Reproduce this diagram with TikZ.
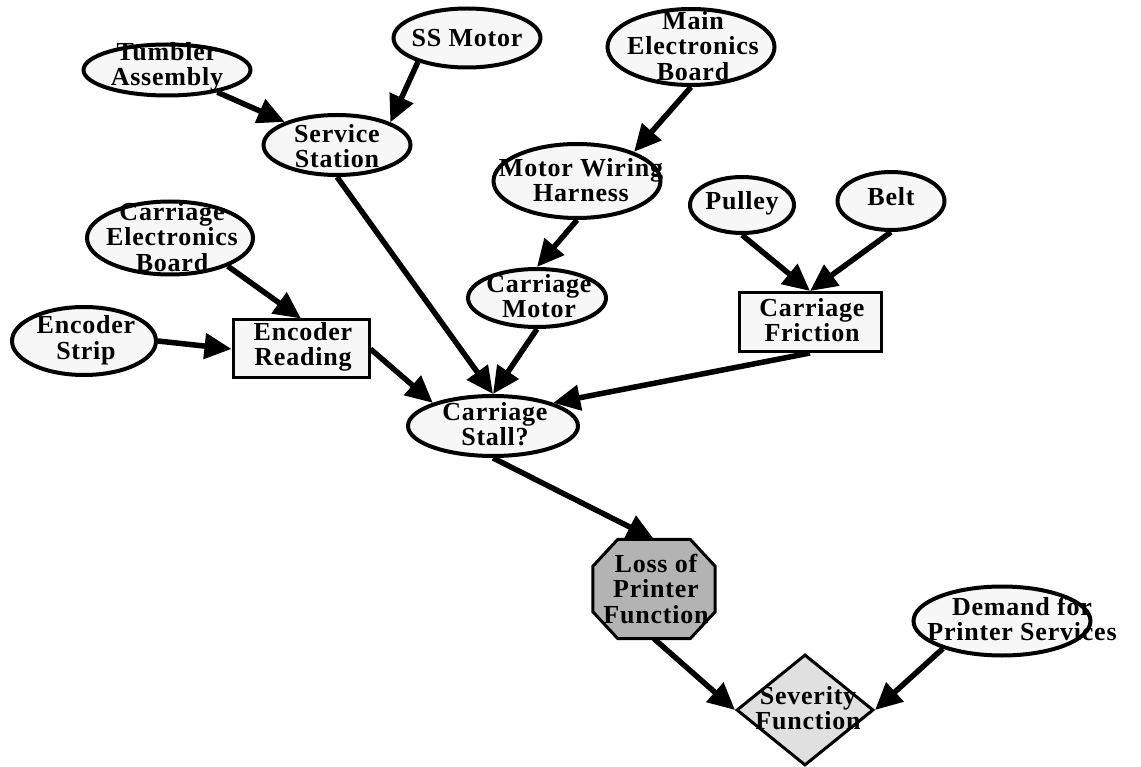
\documentclass[tikz,border=0pt]{standalone}
\usepackage{fontspec}
\newfontfamily\lblfont{Liberation Serif}[LetterSpace=3]
\usetikzlibrary{shapes.geometric,arrows.meta,backgrounds}
\definecolor{nodefill}{HTML}{F7F7F7}
\definecolor{lossfill}{HTML}{B3B3B3}
\definecolor{sevfill}{HTML}{E0E0E0}

\begin{document}
\begin{tikzpicture}[x=1pt,y=-1pt,
  ell/.style={ellipse, draw, line width=4pt, fill=nodefill, inner sep=0pt},
  box/.style={rectangle, draw, line width=3pt, fill=nodefill, inner sep=0pt},
  txt/.style={align=center, inner sep=0pt, font=\lblfont\bfseries\fontsize{26}{25.5}\selectfont},
  edge/.style={line width=5.5pt, -{Triangle[length=27pt,width=25pt]}},
]
\useasboundingbox (0,0) rectangle (1141,767);

% chance nodes (ellipses)
\node[ell, minimum width=167pt, minimum height=51pt] (ta) at (167,70) {};
\node[txt] (ta-t) at (167,67) {Tumbler\\Assembly};
\node[ell, minimum width=147pt, minimum height=59pt] (sm) at (467,38) {};
\node[txt] (sm-t) at (467,38) {SS Motor};
\node[ell, minimum width=147pt, minimum height=60pt] (ss) at (337,145) {};
\node[txt] (ss-t) at (337,146) {Service\\Station};
\node[ell, minimum width=167pt, minimum height=76pt] (me) at (691,47) {};
\node[txt] (me-t) at (693,46) {Main\\Electronics\\Board};
\node[ell, minimum width=167pt, minimum height=74pt] (mw) at (577,181) {};
\node[txt] (mw-t) at (581,180) {Motor Wiring\\Harness};
\node[ell, minimum width=104pt, minimum height=56pt] (pu) at (742,205) {};
\node[txt] (pu-t) at (742,203) {Pulley};
\node[ell, minimum width=107pt, minimum height=58pt] (be) at (891,201) {};
\node[txt] (be-t) at (891,197) {Belt};
\node[ell, minimum width=166pt, minimum height=73pt] (ceb) at (170,238) {};
\node[txt] (ceb-t) at (172,237) {Carriage\\Electronics\\Board};
\node[ell, minimum width=144pt, minimum height=68pt] (es) at (84,341) {};
\node[txt] (es-t) at (86,340) {Encoder\\Strip};
\node[ell, minimum width=138pt, minimum height=58pt] (cm) at (537,298) {};
\node[txt] (cm-t) at (539,296) {Carriage\\Motor};
\node[ell, minimum width=170pt, minimum height=60pt] (cs) at (493,426) {};
\node[txt] (cs-t) at (495,424) {Carriage\\Stall?};
\node[ell, minimum width=177pt, minimum height=69pt] (de) at (1002,621) {};
\node[txt] (de-t) at (1022,619) {Demand for\\Printer Services};

% deterministic nodes (boxes)
\node[box, minimum width=136pt, minimum height=58pt] (er) at (301,349) {};
\node[txt] (er-t) at (303,347) {Encoder\\Reading};
\node[box, minimum width=142pt, minimum height=59pt] (cf) at (810,322) {};
\node[txt] (cf-t) at (812,320) {Carriage\\Friction};

% value node (octagon)
\node[minimum width=122pt, minimum height=99pt, inner sep=0pt] (lpf) at (654,589) {};
\draw[line width=3pt, fill=lossfill]
  ([xshift=25pt]lpf.north west) -- ([xshift=-25pt]lpf.north east)
  -- ([yshift=-27pt]lpf.north east) -- ([yshift=27pt]lpf.south east)
  -- ([xshift=-25pt]lpf.south east) -- ([xshift=25pt]lpf.south west)
  -- ([yshift=27pt]lpf.south west) -- ([yshift=-27pt]lpf.north west) -- cycle;
\node[txt] (lpf-t) at (656,589) {Loss of\\Printer\\Function};

% utility node (diamond)
\node[diamond, draw, line width=3pt, fill=sevfill, minimum width=137pt,
      minimum height=111pt, inner sep=0pt] (sev) at (805,710) {};
\node[txt] (sev-t) at (808,708) {Severity\\Function};

% influence arcs
\begin{scope}[on background layer]
\draw[edge] (ta) -- (ss);
\draw[edge] (sm.206) -- (ss.23);
\draw[edge] (me.south) -- (mw.27);
\draw[edge] (mw.south) -- (cm.north);
\draw[edge] (ceb.334) -- (er.north);
\draw[edge] (es.east) -- (er.west);
\draw[edge] (er.east) -- (cs.159);
\draw[edge] (ss.south) -- (cs.north);
\draw[edge] (cm.south) -- (cs.north);
\draw[edge] (cf.south) -- (cs.21);
\draw[edge] (pu.south) -- (cf.north);
\draw[edge] (be.south) -- (cf.north);
\draw[edge] (cs.south) -- (lpf.north);
\draw[edge] (lpf.south) -- (sev.west);
\draw[edge] (de.205) -- (sev.east);
\end{scope}
\end{tikzpicture}
\end{document}
